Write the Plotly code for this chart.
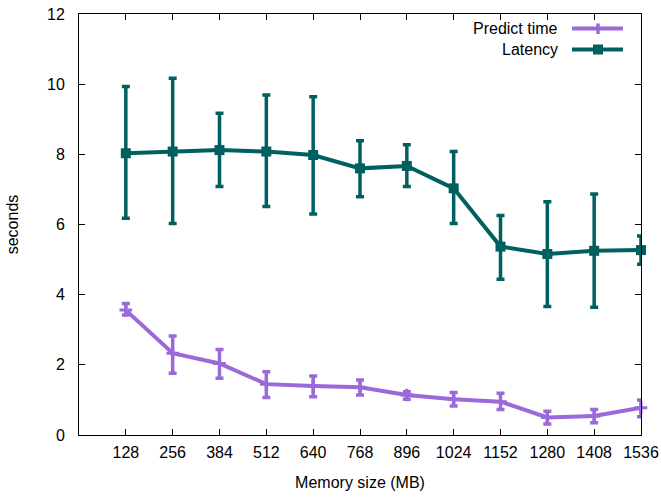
import plotly.graph_objects as go

# ---- data ----
memory_mb = [128, 256, 384, 512, 640, 768, 896, 1024, 1152, 1280, 1408, 1536]
x_ticks = [128, 256, 384, 512, 640, 768, 896, 1024, 1152, 1280, 1408, 1536]
y_ticks = [0, 2, 4, 6, 8, 10, 12]

predict_time = [3.56, 2.33, 2.04, 1.45, 1.40, 1.36, 1.14, 1.02, 0.95, 0.50, 0.54, 0.78]
predict_hi = [3.75, 2.82, 2.44, 1.80, 1.68, 1.57, 1.23, 1.21, 1.19, 0.68, 0.73, 1.00]
predict_lo = [3.42, 1.76, 1.62, 1.07, 1.09, 1.14, 1.02, 0.83, 0.73, 0.31, 0.35, 0.52]

latency = [8.03, 8.08, 8.12, 8.08, 7.98, 7.60, 7.67, 7.03, 5.37, 5.16, 5.25, 5.27]
latency_hi = [9.93, 10.17, 9.17, 9.69, 9.64, 8.39, 8.27, 8.08, 6.26, 6.65, 6.87, 5.67]
latency_lo = [6.18, 6.03, 7.08, 6.51, 6.30, 6.79, 7.08, 6.03, 4.44, 3.66, 3.64, 4.87]

PURPLE = "#9a69da"
TEAL = "#006060"
FONT = "Liberation Sans, Arial, sans-serif"

W, H = 661, 498
L, R, T, B = 79, 641, 14, 435


def px(x):
    return (x - L) / (R - L)


def py(y):
    return (B - y) / (B - T)


fig = go.Figure()

fig.add_trace(go.Scatter(
    x=memory_mb, y=predict_time, mode="lines+markers", name="Predict time",
    line=dict(color=PURPLE, width=4),
    marker=dict(symbol="cross-thin", size=9, color=PURPLE, line=dict(color=PURPLE, width=3)),
    error_y=dict(type="data", symmetric=False,
                 array=[h - v for h, v in zip(predict_hi, predict_time)],
                 arrayminus=[v - l for v, l in zip(predict_time, predict_lo)],
                 color=PURPLE, thickness=3.5, width=4),
    cliponaxis=False, showlegend=False,
))

fig.add_trace(go.Scatter(
    x=memory_mb, y=latency, mode="lines+markers", name="Latency",
    line=dict(color=TEAL, width=4),
    marker=dict(symbol="square", size=10, color=TEAL),
    error_y=dict(type="data", symmetric=False,
                 array=[h - v for h, v in zip(latency_hi, latency)],
                 arrayminus=[v - l for v, l in zip(latency, latency_lo)],
                 color=TEAL, thickness=3.5, width=4),
    cliponaxis=False, showlegend=False,
))

# ---- gnuplot-style legend (text right-aligned, sample to the right) ----
legend_rows = [("Predict time", PURPLE, 28.5), ("Latency", TEAL, 49.5)]
shapes = []
annotations = []
for name, color, yy in legend_rows:
    annotations.append(dict(
        x=px(560), y=py(yy), xref="paper", yref="paper", text=name,
        showarrow=False, xanchor="right", yanchor="middle",
        font=dict(family=FONT, size=16, color="#000000"),
    ))
    shapes.append(dict(type="line", xref="paper", yref="paper",
                       x0=px(572), x1=px(623), y0=py(yy), y1=py(yy),
                       line=dict(color=color, width=4)))
# legend markers
shapes.append(dict(type="line", xref="paper", yref="paper",
                   x0=px(598), x1=px(598), y0=py(23.5), y1=py(34),
                   line=dict(color=PURPLE, width=3.5)))
shapes.append(dict(type="rect", xref="paper", yref="paper",
                   x0=px(593), x1=px(603), y0=py(44.5), y1=py(54.5),
                   line=dict(color=TEAL, width=0), fillcolor=TEAL))

fig.update_layout(
    width=W, height=H,
    margin=dict(l=L, r=W - R, t=T, b=H - B, pad=0, autoexpand=False),
    paper_bgcolor="white", plot_bgcolor="white",
    font=dict(family=FONT, size=16, color="#000000"),
    shapes=shapes, annotations=annotations,
    xaxis=dict(
        range=[0, 1536], tickvals=x_ticks, ticktext=[str(v) for v in x_ticks],
        showgrid=False, zeroline=False, showline=True, linecolor="#000000", linewidth=1,
        mirror="ticks", ticks="inside", ticklen=6, tickcolor="#000000",
        tickfont=dict(size=16), ticklabelstandoff=3, automargin=False,
        title=dict(text="Memory size (MB)", font=dict(size=16), standoff=16),
    ),
    yaxis=dict(
        range=[0, 12], tickvals=y_ticks, ticktext=[str(v) for v in y_ticks],
        showgrid=False, zeroline=False, showline=True, linecolor="#000000", linewidth=1,
        mirror="ticks", ticks="inside", ticklen=6, tickcolor="#000000",
        tickfont=dict(size=16), ticklabelstandoff=10, automargin=False,
        title=dict(text="seconds", font=dict(size=16), standoff=24),
    ),
)

fig.write_html("out.html", config={"displayModeBar": False})

# remove the browser's default body margin so the figure sits at the page origin
with open("out.html", "r", encoding="utf-8") as f:
    html = f.read()
html = html.replace("<body>", '<body style="margin:0;padding:0;overflow:hidden">', 1)
with open("out.html", "w", encoding="utf-8") as f:
    f.write(html)
